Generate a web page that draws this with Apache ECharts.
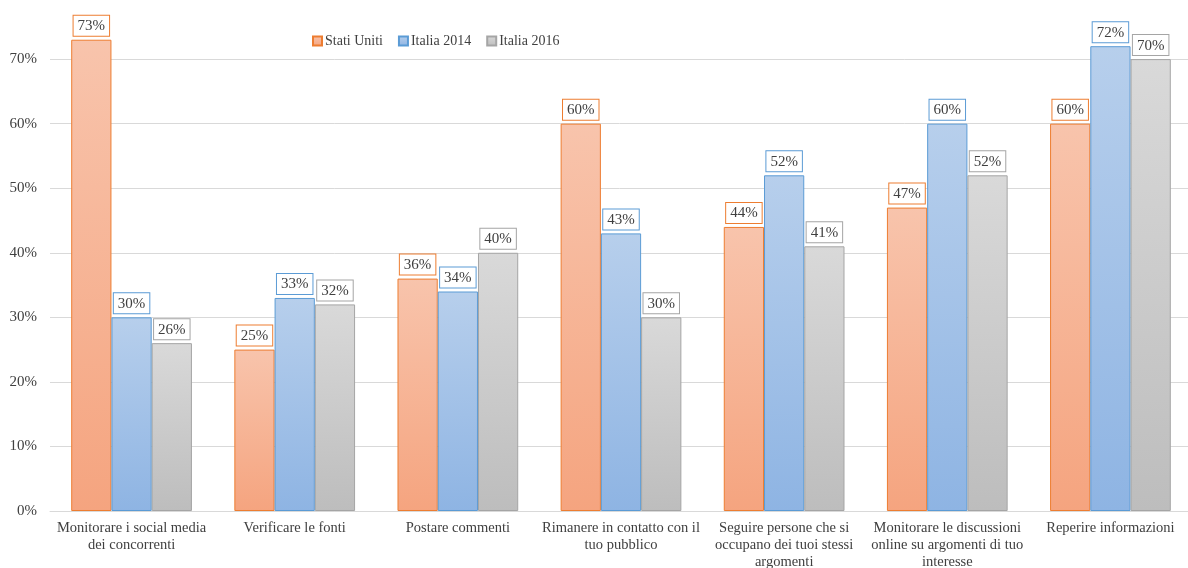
<!DOCTYPE html>
<html>
<head>
<meta charset="utf-8">
<script src="https://cdn.jsdelivr.net/npm/echarts@6/dist/echarts.min.js"></script>
<style>
  html, body { margin: 0; padding: 0; background: #fff; }
  #chart { width: 1188px; height: 568px; }
</style>
</head>
<body>
<div id="chart"></div>
<script>
// Attività svolte sui social media dai giornalisti (percentuali)
const categories = [
  'Monitorare i social media\ndei concorrenti',
  'Verificare le fonti',
  'Postare commenti',
  'Rimanere in contatto con il\ntuo pubblico',
  'Seguire persone che si\noccupano dei tuoi stessi\nargomenti',
  'Monitorare le discussioni\nonline su argomenti di tuo\ninteresse',
  'Reperire informazioni'
];
const statiUniti = [73, 25, 36, 60, 44, 47, 60];
const italia2014 = [30, 33, 34, 43, 52, 60, 72];
const italia2016 = [26, 32, 40, 30, 41, 52, 70];
const yTicks = [0, 10, 20, 30, 40, 50, 60, 70];

const FONT = '"Liberation Serif", "DejaVu Serif", serif';
const TEXT = '#404040';

function grad(top, bottom) {
  return new echarts.graphic.LinearGradient(0, 0, 0, 1, [
    { offset: 0, color: top },
    { offset: 1, color: bottom }
  ]);
}

function makeSeries(name, data, top, bottom, border) {
  return {
    name: name,
    type: 'bar',
    data: data,
    barGap: '0%',
    barCategoryGap: '26%',
    itemStyle: { color: grad(top, bottom), borderColor: border, borderWidth: 1 },
    label: {
      show: true,
      position: 'top',
      distance: 4,
      formatter: '{c}%',
      fontFamily: FONT,
      fontSize: 15,
      color: TEXT,
      backgroundColor: '#fff',
      borderColor: border,
      borderWidth: 1,
      padding: [3, 4, 2, 4]
    }
  };
}

const chart = echarts.init(document.getElementById('chart'), null, { renderer: 'canvas' });
chart.setOption({
  animation: false,
  backgroundColor: '#fff',
  textStyle: { fontFamily: FONT },
  legend: {
    top: 29,
    left: 307,
    itemWidth: 9,
    itemHeight: 9,
    itemGap: 15,
    icon: 'rect',
    textStyle: { fontFamily: FONT, fontSize: 14, color: TEXT, padding: [0, 0, 0, -2] },
    data: ['Stati Uniti', 'Italia 2014', 'Italia 2016']
  },
  grid: {
    left: 50, width: 1142, top: 1, bottom: 57,
    containLabel: false, outerBoundsMode: 'none'
  },
  xAxis: {
    type: 'category',
    data: categories,
    axisLine: { lineStyle: { color: '#D9D9D9', width: 1 } },
    axisTick: { show: false },
    axisLabel: {
      interval: 0,
      margin: 9,
      fontFamily: FONT,
      fontSize: 14.5,
      lineHeight: 17,
      color: TEXT
    }
  },
  yAxis: {
    type: 'value',
    min: 0,
    max: 79,
    interval: 10,
    axisLine: { show: false },
    axisTick: { show: false },
    splitLine: { showMaxLine: false, lineStyle: { color: '#D9D9D9', width: 1 } },
    axisLabel: {
      margin: 13,
      fontFamily: FONT,
      fontSize: 15,
      color: TEXT,
      showMaxLabel: false,
      formatter: function (v) { return yTicks.indexOf(v) >= 0 ? v + '%' : ''; }
    }
  },
  series: [
    makeSeries('Stati Uniti', statiUniti, '#F8C4AC', '#F5A47F', '#ED7D31'),
    makeSeries('Italia 2014', italia2014, '#B7CFEC', '#8EB4E3', '#5B9BD5'),
    makeSeries('Italia 2016', italia2016, '#D9D9D9', '#BDBDBD', '#A5A5A5')
  ]
});
</script>
</body>
</html>
